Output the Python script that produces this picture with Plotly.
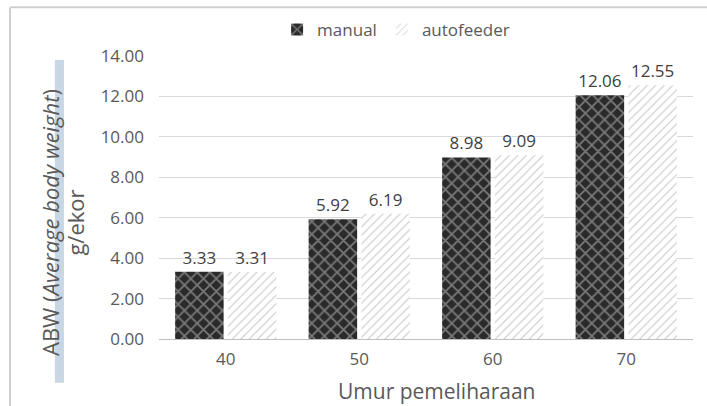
import plotly.graph_objects as go

# umur pemeliharaan (hari) dan ABW (g/ekor)
umur = ["40", "50", "60", "70"]
manual = [3.33, 5.92, 8.98, 12.06]
autofeeder = [3.31, 6.19, 9.09, 12.55]
y_ticks = [0, 2, 4, 6, 8, 10, 12, 14]

FONT = "Open Sans, Lato, sans-serif"
GREY = "#595959"

fig = go.Figure()

fig.add_trace(go.Bar(
    x=umur, y=manual, name="manual",
    text=[f"{v:.2f}" for v in manual], textposition="outside",
    textfont=dict(size=17, color="#404040"),
    marker=dict(
        color="#2a2a2a",
        line=dict(width=0),
        pattern=dict(shape="x", fgcolor="#c8c8c8", size=9, solidity=0.35),
    ),
    cliponaxis=False,
))

fig.add_trace(go.Bar(
    x=umur, y=autofeeder, name="autofeeder",
    text=[f"{v:.2f}" for v in autofeeder], textposition="outside",
    textfont=dict(size=17, color="#404040"),
    marker=dict(
        color="white",
        line=dict(width=0),
        pattern=dict(shape="/", fgcolor="#8f8f8f", size=6, solidity=0.18),
    ),
    cliponaxis=False,
))

# outer chart border (only top and left edges show in the reference)
fig.add_shape(type="line", xref="paper", yref="paper",
              x0=-0.279, x1=1.2, y0=1.172, y1=1.172,
              line=dict(color="#cfcfcf", width=2), layer="above")
fig.add_shape(type="line", xref="paper", yref="paper",
              x0=-0.279, x1=-0.279, y0=1.172, y1=-0.4,
              line=dict(color="#cfcfcf", width=2), layer="above")

# light blue strip behind the axis title
fig.add_shape(type="rect", xref="paper", yref="paper",
              x0=-0.195, x1=-0.178, y0=-0.155, y1=0.986,
              fillcolor="#c9d6e3", line=dict(width=0), layer="below")

fig.add_annotation(
    text="ABW (<i>Average body weight</i>)", textangle=-90,
    xref="paper", yref="paper", x=-0.204, y=0.41,
    xanchor="center", yanchor="middle",
    showarrow=False, font=dict(size=22, color=GREY, family=FONT),
)
fig.add_annotation(
    text="g/ekor", textangle=-90,
    xref="paper", yref="paper", x=-0.158, y=0.41,
    xanchor="center", yanchor="middle",
    showarrow=False, font=dict(size=22, color=GREY, family=FONT),
)
fig.add_annotation(
    text="Umur pemeliharaan",
    xref="paper", yref="paper", x=0.52, y=-0.185,
    xanchor="center", yanchor="middle",
    showarrow=False, font=dict(size=21, color=GREY, family=FONT),
)

fig.update_layout(
    width=707, height=406,
    margin=dict(l=159, r=14, t=56, b=67),
    paper_bgcolor="white", plot_bgcolor="white",
    font=dict(family=FONT, color=GREY, size=17),
    barmode="group", bargap=0.21, bargroupgap=0.08,
    showlegend=True,
    legend=dict(
        orientation="h", x=0.444, xanchor="center",
        y=1.092, yanchor="middle",
        font=dict(size=17, color=GREY), itemwidth=30,
        bgcolor="rgba(0,0,0,0)",
    ),
)

fig.update_xaxes(
    showgrid=False, showline=True, linecolor="#bfbfbf", linewidth=1,
    ticks="", ticklabelstandoff=5, tickfont=dict(size=17, color=GREY),
)
fig.update_yaxes(
    range=[0, 14], tickvals=y_ticks,
    ticktext=[f"{v:.2f}" for v in y_ticks],
    showgrid=True, gridcolor="#d9d9d9", gridwidth=1,
    zeroline=False, showline=False, ticks="",
    ticklabelstandoff=14,
    tickfont=dict(size=17, color=GREY),
)

# drop the default 8px body margin so the figure sits at the window corner
fig.write_html(
    "out.html",
    config={"displayModeBar": False},
    post_script="document.body.style.margin = '0';",
)
